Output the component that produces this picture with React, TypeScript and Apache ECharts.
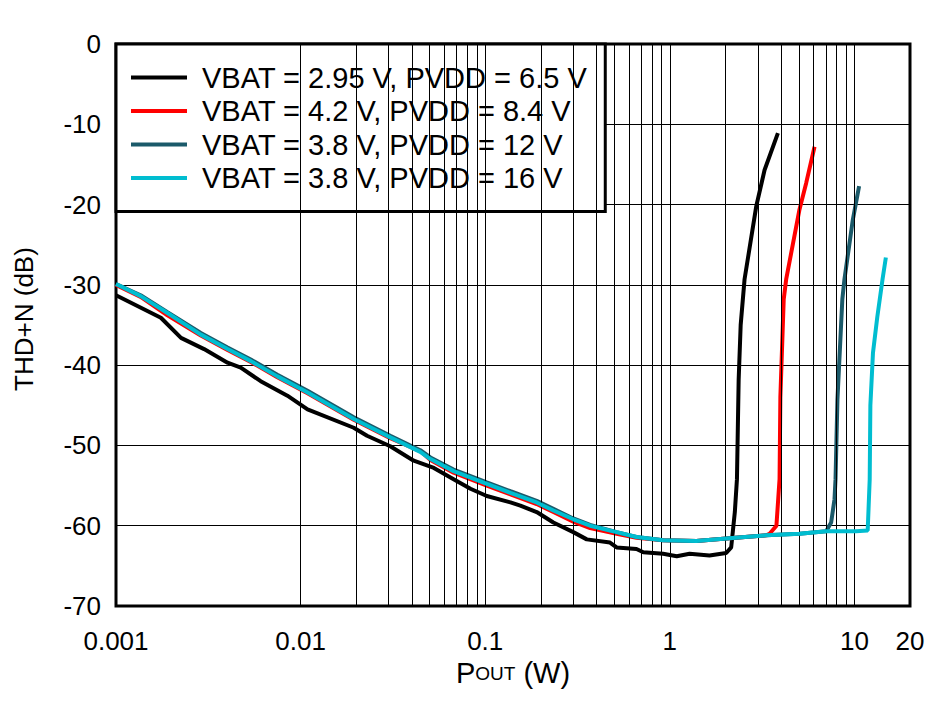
import React, { useEffect, useRef } from "react";
import * as echarts from "echarts";

const seriesNames = [
  "VBAT = 2.95 V, PVDD = 6.5 V",
  "VBAT = 4.2 V, PVDD = 8.4 V",
  "VBAT = 3.8 V, PVDD = 12 V",
  "VBAT = 3.8 V, PVDD = 16 V",
];
const seriesColors = ["#000000", "#ff0000", "#1b5a6a", "#00bdd0"];

const blackData: number[][] = [
  [0.001, -31.3], [0.00175, -34.1], [0.00225, -36.6], [0.003, -38.0], [0.00402, -39.7],
  [0.00474, -40.3], [0.00608, -42.0], [0.00848, -43.8], [0.0109, -45.5], [0.0194, -47.8],
  [0.0229, -48.8], [0.0306, -50.1], [0.041, -51.9], [0.0527, -52.8], [0.0674, -54.2],
  [0.0832, -55.4], [0.102, -56.3], [0.137, -57.1], [0.155, -57.5], [0.19, -58.3],
  [0.234, -59.6], [0.3, -60.8], [0.355, -61.7], [0.474, -62.1], [0.515, -62.7],
  [0.66, -62.9], [0.718, -63.3], [0.92, -63.5], [1.09, -63.8], [1.28, -63.5],
  [1.64, -63.7], [2.02, -63.4], [2.15, -62.7], [2.25, -58.3], [2.31, -54.2],
  [2.36, -41.8], [2.42, -35.0], [2.54, -29.3], [2.94, -20.2], [3.26, -15.7], [3.85, -11.1],
];

const redData: number[][] = [
  [0.001, -30.0], [0.00136, -31.5], [0.0019, -33.8], [0.00288, -36.3], [0.00402, -38.1],
  [0.00537, -39.6], [0.00748, -41.5], [0.0109, -43.5], [0.0194, -46.8], [0.0306, -49.1],
  [0.0445, -50.7], [0.0505, -51.8], [0.0674, -53.4], [0.102, -55.0], [0.137, -56.1],
  [0.19, -57.3], [0.234, -58.3], [0.3, -59.5], [0.37, -60.3], [0.515, -61.0],
  [0.66, -61.5], [0.92, -61.8], [1.39, -61.9], [2.02, -61.6], [3.33, -61.2],
  [3.47, -61.0], [3.78, -60.0], [3.93, -54.2], [3.97, -44.0], [4.14, -31.8],
  [4.27, -29.3], [5.04, -20.6], [5.48, -17.3], [6.08, -12.8],
];

const tealData: number[][] = [
  [0.001, -29.9], [0.00136, -31.3], [0.0019, -33.4], [0.00288, -36.0], [0.00402, -37.8],
  [0.00537, -39.3], [0.00748, -41.2], [0.0109, -43.2], [0.0194, -46.5], [0.0306, -48.8],
  [0.0445, -50.6], [0.0505, -51.5], [0.0674, -53.0], [0.102, -54.6], [0.137, -55.7],
  [0.19, -56.9], [0.234, -57.9], [0.3, -59.1], [0.37, -59.9], [0.515, -60.8],
  [0.66, -61.4], [0.92, -61.8], [1.39, -61.9], [2.02, -61.6], [3.33, -61.2],
  [5.04, -61.0], [7.03, -60.7], [7.48, -59.6], [7.8, -56.7], [7.9, -54.2],
  [8.09, -44.3], [8.6, -31.8], [8.83, -29.3], [9.8, -21.9], [10.6, -17.7],
];

const cyanData: number[][] = [
  [0.001, -29.9], [0.00136, -31.4], [0.0019, -33.5], [0.00288, -36.2], [0.00402, -38.0],
  [0.00537, -39.5], [0.00748, -41.4], [0.0109, -43.4], [0.0194, -46.7], [0.0306, -49.0],
  [0.0445, -50.8], [0.0505, -51.7], [0.0674, -53.2], [0.102, -54.8], [0.137, -55.9],
  [0.19, -57.1], [0.234, -58.1], [0.3, -59.2], [0.37, -60.0], [0.515, -60.8],
  [0.66, -61.4], [0.92, -61.8], [1.39, -61.9], [2.02, -61.6], [3.33, -61.2],
  [5.04, -61.0], [7.03, -60.7], [10.2, -60.7], [11.8, -60.6], [12.1, -54.2],
  [12.2, -45.0], [12.6, -38.5], [13.3, -34.0], [14.2, -29.3], [14.8, -26.6],
];

const xGridValues = [
  0.001, 0.002, 0.003, 0.004, 0.005, 0.006, 0.007, 0.008, 0.009,
  0.01, 0.02, 0.03, 0.04, 0.05, 0.06, 0.07, 0.08, 0.09,
  0.1, 0.2, 0.3, 0.4, 0.5, 0.6, 0.7, 0.8, 0.9,
  1, 2, 3, 4, 5, 6, 7, 8, 9, 10,
];

const FONT = "'Liberation Sans', Arial, sans-serif";

export default function App() {
  const ref = useRef<HTMLDivElement>(null);
  useEffect(() => {
    document.body.style.margin = "0";
    const chart = echarts.init(ref.current!, null, { renderer: "svg" });
    const datasets = [blackData, redData, tealData, cyanData];
    chart.setOption({
      animation: false,
      backgroundColor: "#ffffff",
      textStyle: { fontFamily: FONT },
      grid: {
        left: 116, top: 44, width: 794, height: 562,
        show: true, borderColor: "#000", borderWidth: 3, backgroundColor: "transparent",
      },
      legend: {
        data: seriesNames.map((n) => ({ name: n, icon: "rect" })),
        orient: "vertical",
        left: 116, top: 44,
        backgroundColor: "#ffffff",
        borderColor: "#000", borderWidth: 3, borderRadius: 0,
        padding: [19, 18, 19, 15],
        itemGap: 4.5,
        itemWidth: 56, itemHeight: 4,
        textStyle: { fontSize: 29, color: "#000", fontFamily: FONT, lineHeight: 28, padding: [0, 0, 0, 10] },
      },
      xAxis: {
        type: "log", logBase: 10, min: 0.001, max: 20,
        axisLine: { show: false }, axisTick: { show: false },
        splitLine: { show: false },
        axisLabel: {
          fontSize: 26, color: "#000", fontFamily: FONT, margin: 22,
          formatter: (v: number) => String(Number(v.toPrecision(6))),
        },
        name: "{p|P}{s|OUT}{p| (W)}",
        nameLocation: "middle", nameGap: 52,
        nameTextStyle: {
          rich: {
            p: { fontSize: 29, color: "#000", fontFamily: FONT },
            s: { fontSize: 19, color: "#000", fontFamily: FONT },
          },
        },
      },
      yAxis: {
        type: "value", min: -70, max: 0, interval: 10,
        axisLine: { show: false }, axisTick: { show: false },
        splitLine: { show: true, lineStyle: { color: "#000", width: 1 } },
        axisLabel: { fontSize: 26, color: "#000", fontFamily: FONT, margin: 15 },
        name: "THD+N (dB)", nameLocation: "middle", nameRotate: 90, nameGap: 79,
        nameTextStyle: { fontSize: 26, color: "#000", fontFamily: FONT, padding: [0, 0, 0, 12] },
      },
      series: [
        {
          type: "line", name: "grid", data: [], z: 1, silent: true,
          markLine: {
            silent: true, symbol: "none", animation: false,
            label: { show: false },
            lineStyle: { color: "#000", width: 1, type: "solid" },
            data: xGridValues.map((v) => ({ xAxis: v })),
          },
        },
        ...datasets.map((d, i) => ({
          type: "line", name: seriesNames[i], data: d, z: 2 + i,
          symbol: "none", showSymbol: false,
          lineStyle: { color: seriesColors[i], width: 4 },
          itemStyle: { color: seriesColors[i] },
        })),
      ],
    });
    return () => chart.dispose();
  }, []);
  return <div ref={ref} style={{ width: 950, height: 701 }} />;
}
